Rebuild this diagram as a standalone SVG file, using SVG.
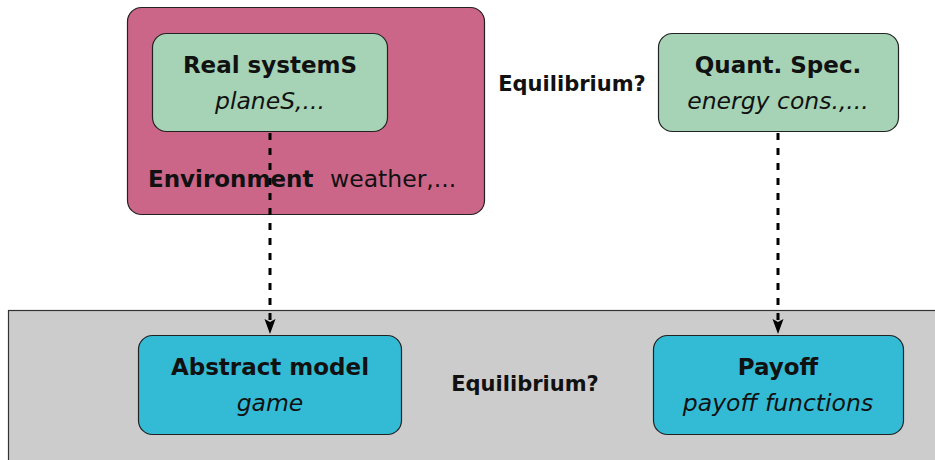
<svg xmlns="http://www.w3.org/2000/svg" width="935" height="460" viewBox="0 0 935 460">
<style>
.t{font-family:"DejaVu Sans","Liberation Sans",sans-serif;fill:#111;text-anchor:middle}
.b{font-weight:bold;font-size:23px}
.i{font-style:italic;font-size:23.5px}
.e{font-weight:bold;font-size:21px}
.green{fill:#a6d3b5;stroke:#222;stroke-width:1.2}
.cyan{fill:#33bbd6;stroke:#222;stroke-width:1.2}
.conn{stroke:#000;stroke-width:3;stroke-dasharray:7 8;fill:none}
</style>
<g id="env">
<rect x="127.5" y="7.5" width="357" height="207" rx="14" fill="#cc6688" stroke="#222" stroke-width="1.2"/>
<text class="t" x="148" y="187" style="text-anchor:start;font-weight:bold;font-size:23px">Environment</text>
<text class="t" x="330" y="187" style="text-anchor:start;font-size:23.5px">weather,...</text>
</g>
<g id="abstract-layer">
<rect x="8.5" y="310.5" width="940" height="160" fill="#cccccc" stroke="#333" stroke-width="1.2"/>
</g>
<g id="real">
<rect class="green" x="152.5" y="33.5" width="235" height="98" rx="14"/>
<text class="t b" x="270" y="73">Real systemS</text>
<text class="t i" x="270" y="109">planeS,...</text>
</g>
<g id="quant">
<rect class="green" x="658.5" y="33.5" width="240" height="98" rx="14"/>
<text class="t b" x="778" y="73">Quant. Spec.</text>
<text class="t i" x="778" y="109">energy cons.,...</text>
</g>
<g id="eq1"><text class="t e" x="572" y="91">Equilibrium?</text></g>
<g id="model">
<rect class="cyan" x="138.5" y="335.5" width="263" height="99" rx="14"/>
<text class="t b" x="270" y="375">Abstract model</text>
<text class="t i" x="270" y="411">game</text>
</g>
<g id="payoff">
<rect class="cyan" x="653.5" y="335.5" width="250" height="99" rx="14"/>
<text class="t b" x="778" y="375">Payoff</text>
<text class="t i" x="778" y="411">payoff functions</text>
</g>
<g id="eq2"><text class="t e" x="525" y="391">Equilibrium?</text></g>
<g id="connectors">
<path class="conn" d="M270,133 V320"/>
<path d="M264.5,319 L270,322 L275.5,319 L270,334 Z" fill="#000"/>
<path class="conn" d="M778,133 V320"/>
<path d="M772.5,319 L778,322 L783.5,319 L778,334 Z" fill="#000"/>
</g>
</svg>
